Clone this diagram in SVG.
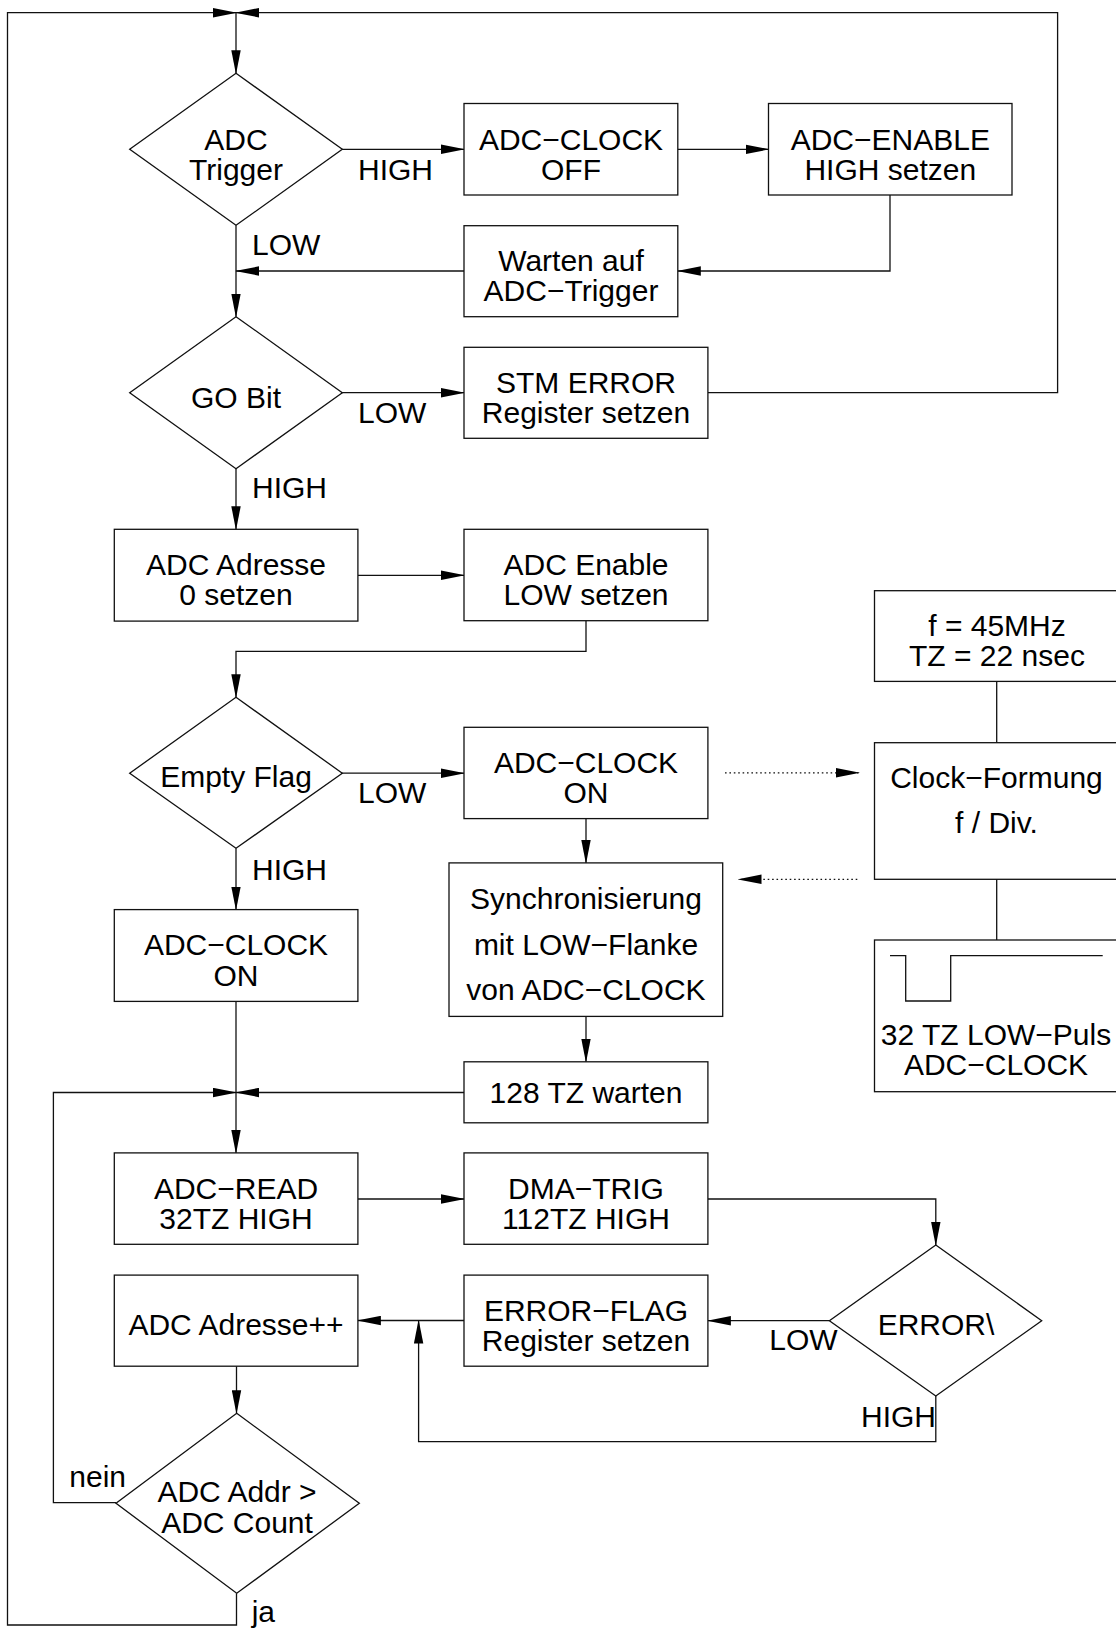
<svg xmlns="http://www.w3.org/2000/svg" width="1116" height="1630" viewBox="0 0 1116 1630">
  <style>
    .box { fill: #fff; stroke: #111; stroke-width: 1.3; }
    .wire { fill: none; stroke: #111; stroke-width: 1.3; }
    .dot { fill: none; stroke: #111; stroke-width: 1.3; stroke-dasharray: 1.6 2.8; }
    text { font-family: "Liberation Sans", Arial, Helvetica, sans-serif; font-size: 30px; fill: #000; }
    .c { text-anchor: middle; }
  </style>
  <defs>
    <marker id="arr" markerUnits="userSpaceOnUse" markerWidth="24" markerHeight="10" viewBox="0 0 24 10" refX="23" refY="5" orient="auto">
      <path d="M0,0.3 L24,5 L0,9.7 z" fill="#000"/>
    </marker>
  </defs>
  <rect width="1116" height="1630" fill="#fff"/>

  <!-- connectors -->
  <g id="connectors">
    <path class="wire" d="M236.5,1593.3 L236.5,1625 L7.5,1625 L7.5,12.7 L236,12.7" marker-end="url(#arr)"/>
    <path class="wire" d="M707.9,392.7 L1057.6,392.7 L1057.6,12.7 L236,12.7" marker-end="url(#arr)"/>
    <path class="wire" d="M236,12.7 L236,73.3" marker-end="url(#arr)"/>
    <path class="wire" d="M342,149.3 L464,149.3" marker-end="url(#arr)"/>
    <path class="wire" d="M677.8,149.3 L768.5,149.3" marker-end="url(#arr)"/>
    <path class="wire" d="M890,195 L890,271 L677.8,271" marker-end="url(#arr)"/>
    <path class="wire" d="M464,271 L236,271" marker-end="url(#arr)"/>
    <path class="wire" d="M236,225.3 L236,316.7" marker-end="url(#arr)"/>
    <path class="wire" d="M342,392.7 L464,392.7" marker-end="url(#arr)"/>
    <path class="wire" d="M236,468.7 L236,529.3" marker-end="url(#arr)"/>
    <path class="wire" d="M357.9,575.3 L464,575.3" marker-end="url(#arr)"/>
    <path class="wire" d="M586,620.7 L586,651.4 L236,651.4 L236,697.3" marker-end="url(#arr)"/>
    <path class="wire" d="M342,773.2 L464,773.2" marker-end="url(#arr)"/>
    <path class="dot" d="M725,772.8 L859,772.8" marker-end="url(#arr)"/>
    <path class="wire" d="M586,818.6 L586,862.9" marker-end="url(#arr)"/>
    <path class="dot" d="M857.3,879.3 L738.5,879.3" marker-end="url(#arr)"/>
    <path class="wire" d="M586,1016.4 L586,1061.8" marker-end="url(#arr)"/>
    <path class="wire" d="M464,1092.5 L236,1092.5" marker-end="url(#arr)"/>
    <path class="wire" d="M236,848.3 L236,909.6" marker-end="url(#arr)"/>
    <path class="wire" d="M236,1001.4 L236,1152.9" marker-end="url(#arr)"/>
    <path class="wire" d="M116,1502.7 L53.4,1502.7 L53.4,1092.5 L236,1092.5" marker-end="url(#arr)"/>
    <path class="wire" d="M357.9,1199 L464,1199" marker-end="url(#arr)"/>
    <path class="wire" d="M707.9,1199 L935.8,1199 L935.8,1245" marker-end="url(#arr)"/>
    <path class="wire" d="M829.4,1320.7 L707.9,1320.7" marker-end="url(#arr)"/>
    <path class="wire" d="M464,1320.5 L357.9,1320.5" marker-end="url(#arr)"/>
    <path class="wire" d="M935.8,1396 L935.8,1441.7 L418.6,1441.7 L418.6,1320.5" marker-end="url(#arr)"/>
    <path class="wire" d="M236.5,1366.2 L236.5,1413.3" marker-end="url(#arr)"/>
    <path class="wire" d="M996.7,681.4 L996.7,742.7"/>
    <path class="wire" d="M996.7,879.3 L996.7,940"/>
  </g>

  <!-- branch labels -->
  <g id="labels">
    <text x="358" y="180">HIGH</text>
    <text x="252" y="255">LOW</text>
    <text x="358" y="422.7">LOW</text>
    <text x="252" y="498.3">HIGH</text>
    <text x="358" y="803.3">LOW</text>
    <text x="252" y="880">HIGH</text>
    <text x="769.3" y="1350">LOW</text>
    <text x="861" y="1426.7">HIGH</text>
    <text x="69.3" y="1486.7">nein</text>
    <text x="251.7" y="1621.7">ja</text>
  </g>

  <g id="adc-trigger">
    <polygon class="box" points="236,73.3 342.3,149.3 236,225.3 129.7,149.3"/>
    <text class="c" x="236" y="149.5">ADC</text>
    <text class="c" x="236" y="179.5">Trigger</text>
  </g>
  <g id="clock-off">
    <rect class="box" x="464" y="103.5" width="213.8" height="91.5"/>
    <text class="c" x="571" y="149.5">ADC−CLOCK</text>
    <text class="c" x="571" y="179.5">OFF</text>
  </g>
  <g id="enable-high">
    <rect class="box" x="768.5" y="103.5" width="243.5" height="91.5"/>
    <text class="c" x="890.3" y="149.5">ADC−ENABLE</text>
    <text class="c" x="890.3" y="179.5">HIGH setzen</text>
  </g>
  <g id="wait-trigger">
    <rect class="box" x="464" y="225.7" width="213.8" height="91"/>
    <text class="c" x="571" y="271">Warten auf</text>
    <text class="c" x="571" y="301">ADC−Trigger</text>
  </g>
  <g id="go-bit">
    <polygon class="box" points="236,316.7 342.3,392.7 236,468.7 129.7,392.7"/>
    <text class="c" x="236" y="407.7">GO Bit</text>
  </g>
  <g id="stm-error">
    <rect class="box" x="464" y="347.3" width="243.9" height="91"/>
    <text class="c" x="586" y="393">STM ERROR</text>
    <text class="c" x="586" y="423">Register setzen</text>
  </g>
  <g id="addr-zero">
    <rect class="box" x="114.3" y="529.3" width="243.6" height="91.8"/>
    <text class="c" x="236" y="575">ADC Adresse</text>
    <text class="c" x="236" y="605">0 setzen</text>
  </g>
  <g id="enable-low">
    <rect class="box" x="464" y="529.3" width="243.9" height="91.4"/>
    <text class="c" x="586" y="575">ADC Enable</text>
    <text class="c" x="586" y="605">LOW setzen</text>
  </g>
  <g id="empty-flag">
    <polygon class="box" points="236,697.3 342.3,773.2 236,848.3 129.7,773.2"/>
    <text class="c" x="236" y="787.3">Empty Flag</text>
  </g>
  <g id="clock-on-sync">
    <rect class="box" x="464" y="727.3" width="243.9" height="91.3"/>
    <text class="c" x="586" y="773">ADC−CLOCK</text>
    <text class="c" x="586" y="803">ON</text>
  </g>
  <g id="clock-on">
    <rect class="box" x="114.3" y="909.6" width="243.6" height="91.8"/>
    <text class="c" x="236" y="955">ADC−CLOCK</text>
    <text class="c" x="236" y="986">ON</text>
  </g>
  <g id="sync">
    <rect class="box" x="449" y="862.9" width="273.7" height="153.5"/>
    <text class="c" x="586" y="909">Synchronisierung</text>
    <text class="c" x="586" y="955">mit LOW−Flanke</text>
    <text class="c" x="586" y="1000">von ADC−CLOCK</text>
  </g>
  <g id="wait-128">
    <rect class="box" x="464" y="1061.8" width="243.9" height="61"/>
    <text class="c" x="586" y="1103">128 TZ warten</text>
  </g>
  <g id="adc-read">
    <rect class="box" x="114.3" y="1152.9" width="243.6" height="91.4"/>
    <text class="c" x="236" y="1199">ADC−READ</text>
    <text class="c" x="236" y="1229">32TZ HIGH</text>
  </g>
  <g id="dma-trig">
    <rect class="box" x="464" y="1152.9" width="243.9" height="91.4"/>
    <text class="c" x="586" y="1199">DMA−TRIG</text>
    <text class="c" x="586" y="1229">112TZ HIGH</text>
  </g>
  <g id="error-check">
    <polygon class="box" points="935.8,1245 1041.7,1320.7 935.8,1396 829.4,1320.7"/>
    <text class="c" x="936" y="1335">ERROR\</text>
  </g>
  <g id="error-flag">
    <rect class="box" x="464" y="1275.1" width="243.9" height="91.1"/>
    <text class="c" x="586" y="1321">ERROR−FLAG</text>
    <text class="c" x="586" y="1351">Register setzen</text>
  </g>
  <g id="addr-inc">
    <rect class="box" x="114.3" y="1275.1" width="243.6" height="91.1"/>
    <text class="c" x="236" y="1335">ADC Adresse++</text>
  </g>
  <g id="addr-compare">
    <polygon class="box" points="236.7,1413.3 359.3,1503.3 236.7,1593.3 116,1503.3"/>
    <text class="c" x="237" y="1502">ADC Addr &gt;</text>
    <text class="c" x="237" y="1533">ADC Count</text>
  </g>
  <g id="clock-source">
    <rect class="box" x="874.5" y="590.7" width="250" height="90.7"/>
    <text class="c" x="997" y="636">f = 45MHz</text>
    <text class="c" x="997" y="666">TZ = 22 nsec</text>
  </g>
  <g id="clock-shaping">
    <rect class="box" x="874.5" y="742.7" width="250" height="136.6"/>
    <text class="c" x="996.5" y="788.3">Clock−Formung</text>
    <text class="c" x="996.5" y="832.7">f / Div.</text>
  </g>
  <g id="clock-pulse">
    <rect class="box" x="874.5" y="940" width="250" height="151.7"/>
    <polyline class="wire" points="890,955.7 905.7,955.7 905.7,1001 950.7,1001 950.7,955.7 1102.7,955.7"/>
    <text class="c" x="996" y="1045">32 TZ LOW−Puls</text>
    <text class="c" x="996" y="1075">ADC−CLOCK</text>
  </g>
</svg>
